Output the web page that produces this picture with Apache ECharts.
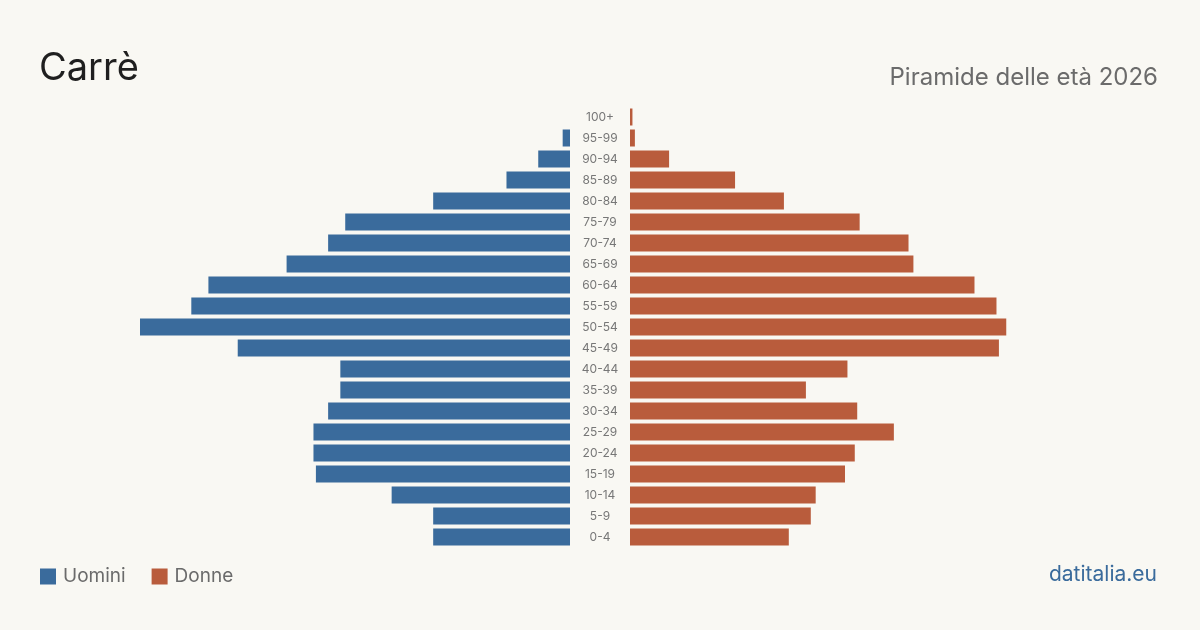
<!DOCTYPE html>
<html>
<head>
<meta charset="utf-8">
<script src="https://cdn.jsdelivr.net/npm/echarts@6/dist/echarts.min.js"></script>
<style>
  html, body { margin: 0; padding: 0; background: #f9f8f3; }
  #chart { width: 1200px; height: 630px; }
</style>
</head>
<body>
<div id="chart"></div>
<script type="text/javascript">
var classi = ['0-4', '5-9', '10-14', '15-19', '20-24', '25-29', '30-34', '35-39', '40-44', '45-49',
  '50-54', '55-59', '60-64', '65-69', '70-74', '75-79', '80-84', '85-89', '90-94', '95-99', '100+'];
var uomini = [56, 56, 73, 104, 105, 105, 99, 94, 94, 136, 176, 155, 148, 116, 99, 92, 56, 26, 13, 3, 0];
var donne = [65, 74, 76, 88, 92, 108, 93, 72, 89, 151, 154, 150, 141, 116, 114, 94, 63, 43, 16, 2, 1];
var massimo = 176;

var blu = '#3a6b9c';
var rosso = '#b95c3c';
var font = 'Inter';

var chart = echarts.init(document.getElementById('chart'));
var option = {
  backgroundColor: '#f9f8f3',
  textStyle: { fontFamily: font },
  animation: false,
  title: [
    { text: 'Carrè', left: 34, top: 45, textStyle: { fontFamily: font, fontSize: 38, fontWeight: 'normal', color: '#1f1f1f' } },
    { text: 'Piramide delle età 2026', right: 37, top: 61, textStyle: { fontFamily: font, fontSize: 24, fontWeight: 'normal', color: '#6b6b6b' } },
    { text: 'datitalia.eu', right: 38, top: 559, textStyle: { fontFamily: font, fontSize: 21, fontWeight: 'normal', color: blu } }
  ],
  legend: {
    left: 35, top: 562, itemWidth: 16, itemHeight: 16, itemGap: 26,
    icon: 'rect',
    textStyle: { fontFamily: font, fontSize: 19, color: '#6b6b6b', padding: [0, 0, 0, 2] },
    data: ['Uomini', 'Donne']
  },
  grid: [
    { left: 140, width: 430, top: 106.5, height: 441 },
    { left: 630, width: 430, top: 106.5, height: 441 }
  ],
  xAxis: [
    { gridIndex: 0, type: 'value', inverse: true, min: 0, max: massimo, show: false },
    { gridIndex: 1, type: 'value', min: 0, max: massimo, show: false }
  ],
  yAxis: [
    { gridIndex: 0, type: 'category', data: classi, show: false },
    {
      gridIndex: 1, type: 'category', data: classi, position: 'left',
      axisLine: { show: false }, axisTick: { show: false },
      axisLabel: { align: 'center', margin: 30, fontFamily: font, fontSize: 12, color: '#777777' }
    }
  ],
  series: [
    { name: 'Uomini', type: 'bar', xAxisIndex: 0, yAxisIndex: 0, data: uomini, barWidth: 17, itemStyle: { color: blu } },
    { name: 'Donne', type: 'bar', xAxisIndex: 1, yAxisIndex: 1, data: donne, barWidth: 17, itemStyle: { color: rosso } }
  ]
};
chart.setOption(option);
</script>
</body>
</html>
